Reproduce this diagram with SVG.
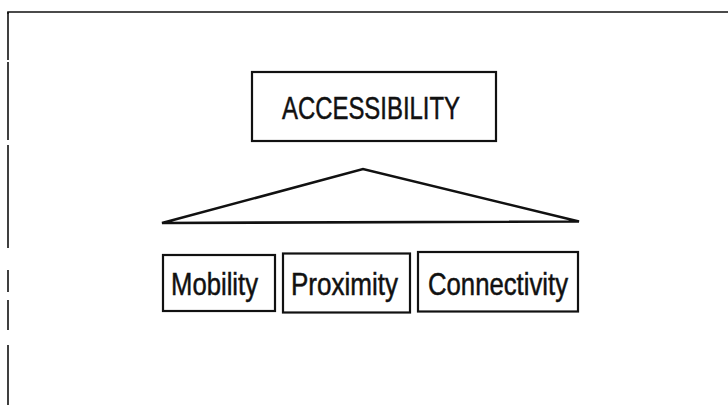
<svg xmlns="http://www.w3.org/2000/svg" width="728" height="405" viewBox="0 0 728 405">
<style>
.frame{fill:none;stroke:#111;stroke-width:1.6}
.box{fill:#fff;stroke:#111;stroke-width:2.2}
.lbl{font-family:"Liberation Sans",Arial,sans-serif;fill:#111;stroke:#111;stroke-width:0.5;text-anchor:start}
.tri{fill:none;stroke:#111;stroke-width:2.6;stroke-linejoin:miter}
</style>
<rect width="728" height="405" fill="#fff"/>
<g id="frame">
<path class="frame" d="M8,14 L8,12 L728,12"/>
<path class="frame" d="M8,12 L8,60 M8,62 L8,140 M8,145 L8,248 M8,270 L8,292 M8,300 L8,330 M8,345 L8,405"/>
</g>
<g id="connectors">
<path class="tri" d="M162,223 L363,169 L579,221.5 Z"/>
</g>
<g id="accessibility">
<rect class="box" x="252" y="72" width="244" height="69"/>
<text class="lbl" x="282" y="119" font-size="32" textLength="178" lengthAdjust="spacingAndGlyphs">ACCESSIBILITY</text>
</g>
<g id="mobility">
<rect class="box" x="163" y="255" width="112" height="56"/>
<text class="lbl" x="171" y="295" font-size="32" textLength="87" lengthAdjust="spacingAndGlyphs">Mobility</text>
</g>
<g id="proximity">
<rect class="box" x="283" y="253.5" width="127" height="59"/>
<text class="lbl" x="291" y="295" font-size="32" textLength="107" lengthAdjust="spacingAndGlyphs">Proximity</text>
</g>
<g id="connectivity">
<rect class="box" x="418" y="252" width="160" height="59.5"/>
<text class="lbl" x="428" y="295" font-size="32" textLength="140" lengthAdjust="spacingAndGlyphs">Connectivity</text>
</g>
</svg>
